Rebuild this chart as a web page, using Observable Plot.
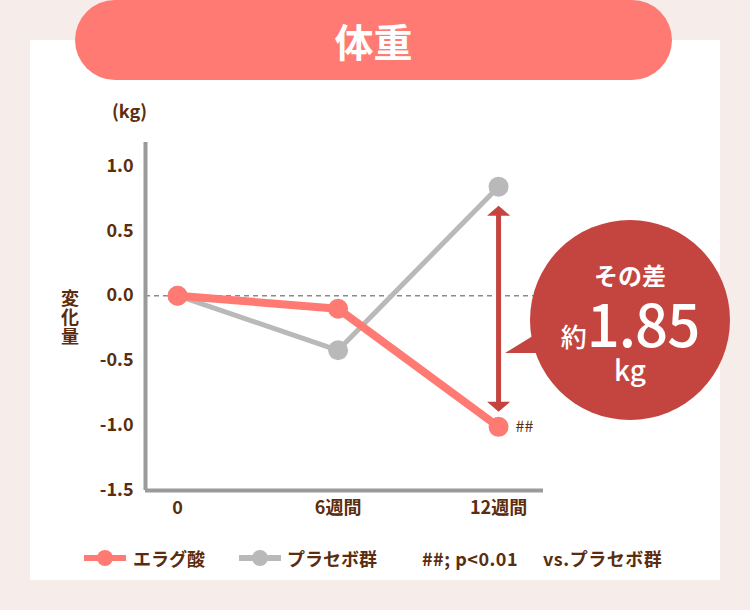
<!DOCTYPE html>
<html><head><meta charset="utf-8">
<script src="https://cdn.jsdelivr.net/npm/d3@7"></script>
<script src="https://cdn.jsdelivr.net/npm/@observablehq/plot@0.6"></script>
<style>
html,body{margin:0;padding:0;}
body{width:750px;height:610px;position:relative;overflow:hidden;background:#f6ecea;font-family:"Noto Sans CJK JP","Noto Sans",sans-serif;}
#panel{position:absolute;left:30px;top:40px;width:690px;height:540px;background:#fff;}
#pill{position:absolute;left:75px;top:0;width:597px;height:80px;border-radius:40px;background:#ff7a73;color:#fff;font-size:39px;font-weight:700;text-align:center;line-height:80px;}
#chart{position:absolute;left:0;top:0;}
#ytitle{position:absolute;left:61px;top:289px;writing-mode:vertical-rl;font-size:18px;font-weight:700;color:#5b2d0e;line-height:18px;letter-spacing:1.3px;}
#bubble{position:absolute;left:0;top:0;pointer-events:none;}
.leg{position:absolute;top:545px;font-size:18px;font-weight:700;color:#5b2d0e;line-height:26px;white-space:nowrap;}
.sw{position:absolute;top:545px;}
</style></head>
<body>
<div id="panel"></div>
<div id="pill">体重</div>
<div id="chart"></div>
<div id="ytitle"></div>
<svg id="bubble" width="750" height="610">
  <path d="M505,353 L536,334 L542,353 Z" fill="#c4453f"/>
  <circle cx="630" cy="320" r="100" fill="#c4453f"/>
  <text x="630" y="285" text-anchor="middle" fill="#fff" font-size="24" font-weight="700" font-family="Noto Sans CJK JP">その差</text>
  <text x="630" y="347" text-anchor="middle" fill="#fff" font-family="Noto Sans CJK JP"><tspan font-size="26" font-weight="500">約</tspan><tspan font-size="58" font-weight="500" letter-spacing="-1">1.85</tspan></text>
  <text x="630" y="381" text-anchor="middle" fill="#fff" font-size="28" font-weight="500" font-family="Noto Sans CJK JP">kg</text>
</svg>
<div id="legend"></div>
<script>
const weeks = [0, 6, 12];
const xTickLabels = ["0", "6週間", "12週間"];
const ellagic = [0, -0.10, -1.01];
const placebo = [0, -0.42, 0.84];
const yTicks = [-1.5, -1.0, -0.5, 0, 0.5, 1.0];
const seriesNames = ["エラグ酸", "プラセボ群"];
const seriesColors = ["#ff7a73", "#b9b9b9"];
const noteText = "##";
const legendNote1 = "##; p<0.01";
const legendNote2 = "vs.プラセボ群";
const yUnit = "(kg)";
const yTitle = "変化量";
const xDomain = [-1.2, 13.68];
const yDomain = [-1.5, 1.18];

const ellRows = weeks.map((w, i) => ({week: w, value: ellagic[i]}));
const plaRows = weeks.map((w, i) => ({week: w, value: placebo[i]}));
const last = weeks.length - 1;
const diffRow = [{week: weeks[last], top: placebo[last], bottom: ellagic[last]}];

const brown = "#5b2d0e";
const red = "#c4453f";
const axisGray = "#9a9a9a";

const headUp = {draw(ctx) { ctx.moveTo(0, 0); ctx.lineTo(11.5, 10); ctx.lineTo(-11.5, 10); ctx.closePath(); }};
const headDown = {draw(ctx) { ctx.moveTo(0, 0); ctx.lineTo(11.5, -10); ctx.lineTo(-11.5, -10); ctx.closePath(); }};

const plot = Plot.plot({
  width: 750,
  height: 610,
  marginLeft: 145,
  marginRight: 207,
  marginTop: 142,
  marginBottom: 120,
  style: {background: "transparent", fontFamily: "'Noto Sans CJK JP', sans-serif", fontSize: "18px", fontWeight: "700", color: brown},
  x: {domain: xDomain, label: null},
  y: {domain: yDomain, label: null},
  marks: [
    Plot.ruleY([0], {stroke: "#8a8a8a", strokeWidth: 1.5, strokeDasharray: "5,4"}),
    Plot.ruleX([xDomain[0]], {stroke: axisGray, strokeWidth: 4}),
    Plot.ruleY([yDomain[0]], {stroke: axisGray, strokeWidth: 4}),
    Plot.axisY({ticks: yTicks, tickFormat: d => d.toFixed(1), tickSize: 0, tickPadding: 12, fill: brown, fontSize: 18, label: null}),
    Plot.axisX({ticks: weeks, tickFormat: d => xTickLabels[weeks.indexOf(d)], tickSize: 0, tickPadding: 11, fill: brown, fontSize: 18, label: null}),
    Plot.line(plaRows, {x: "week", y: "value", stroke: seriesColors[1], strokeWidth: 5}),
    Plot.dot(plaRows, {x: "week", y: "value", r: 10, fill: seriesColors[1]}),
    Plot.line(ellRows, {x: "week", y: "value", stroke: seriesColors[0], strokeWidth: 8}),
    Plot.dot(ellRows, {x: "week", y: "value", r: 10, fill: seriesColors[0]}),
    Plot.ruleX(diffRow, {x: "week", y1: "top", y2: "bottom", stroke: red, strokeWidth: 5, insetTop: 26, insetBottom: 22}),
    Plot.dot(diffRow, {x: "week", y: "top", symbol: headUp, fill: red, r: 8, dy: 19}),
    Plot.dot(diffRow, {x: "week", y: "bottom", symbol: headDown, fill: red, r: 8, dy: -15}),
    Plot.text(diffRow, {x: "week", y: "bottom", text: () => noteText, dx: 17, textAnchor: "start", fill: brown, fontSize: 16, fontWeight: 400}),
    Plot.text([yUnit], {frameAnchor: "top-left", dx: -16, dy: -25, fill: brown, fontSize: 18, fontWeight: 700, textAnchor: "middle", lineAnchor: "bottom"})
  ]
});
document.getElementById("chart").appendChild(plot);
document.getElementById("ytitle").textContent = yTitle;

// legend
const leg = document.getElementById("legend");
const swX = [84, 239];
const txtX = [133, 287];
seriesNames.forEach((name, i) => {
  const s = document.createElementNS("http://www.w3.org/2000/svg", "svg");
  s.setAttribute("class", "sw"); s.setAttribute("width", 42); s.setAttribute("height", 26);
  s.style.left = swX[i] + "px";
  s.innerHTML = `<line x1="0" x2="42" y1="13" y2="13" stroke="${seriesColors[i]}" stroke-width="6"/><circle cx="21" cy="13" r="8" fill="${seriesColors[i]}"/>`;
  leg.appendChild(s);
  const t = document.createElement("div");
  t.className = "leg"; t.style.left = txtX[i] + "px"; t.textContent = name;
  leg.appendChild(t);
});
[[legendNote1, 422], [legendNote2, 543]].forEach(([txt, x]) => {
  const t = document.createElement("div");
  t.className = "leg"; t.style.left = x + "px"; t.style.letterSpacing = "0.5px"; t.textContent = txt;
  leg.appendChild(t);
});
</script>
</body></html>
